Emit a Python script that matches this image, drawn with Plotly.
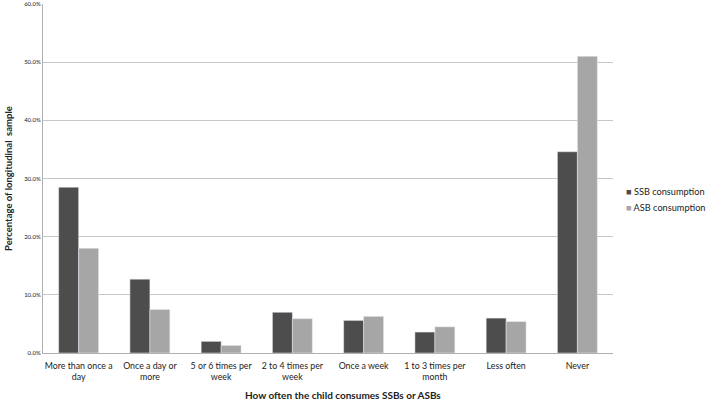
import plotly.graph_objects as go

categories = ["More than once a<br>day", "Once a day or<br>more", "5 or 6 times per<br>week",
              "2 to 4 times per<br>week", "Once a week", "1 to 3 times per<br>month",
              "Less often", "Never"]
ssb = [28.5, 12.7, 2.0, 7.0, 5.6, 3.6, 6.0, 34.6]
asb = [18.0, 7.5, 1.3, 5.9, 6.3, 4.5, 5.4, 51.0]
series_names = ["SSB consumption", "ASB consumption"]
series_colors = ["#4d4d4d", "#a6a6a6"]
y_ticks = [0, 10, 20, 30, 40, 50, 60]
y_tick_labels = ["0.0%", "10.0%", "20.0%", "30.0%", "40.0%", "50.0%", "60.0%"]
x_title = "How often the child consumes SSBs or ASBs"
y_title = "Percentage of longitudinal  sample"

FONT = "Lato, Liberation Sans, sans-serif"

fig = go.Figure()
for name, vals, col in zip(series_names, [ssb, asb], series_colors):
    fig.add_trace(go.Bar(x=categories, y=vals, name=name, marker_color=col, showlegend=False))

# legend drawn as text entries to the right of the plot
for i, (name, col) in enumerate(zip(series_names, series_colors)):
    fig.add_annotation(xref="paper", yref="paper", x=1.02, y=0.464 - i * 0.046,
                       xanchor="left", yanchor="middle", showarrow=False,
                       text=f"<span style='color:{col}'>■</span> {name}",
                       font=dict(size=9.2, color="#222222", family=FONT))

# x-axis title (slightly right of plot centre, as in the original)
fig.add_annotation(xref="paper", yref="paper", x=0.526, y=-0.12,
                   xanchor="center", yanchor="middle", showarrow=False,
                   text=f"<b>{x_title}</b>", font=dict(size=10, color="#222222", family=FONT))

fig.update_layout(
    width=709, height=401,
    margin=dict(l=43, r=96, t=4, b=48, autoexpand=False),
    paper_bgcolor="white", plot_bgcolor="white",
    barmode="group", bargap=0.44, bargroupgap=0,
    font=dict(family=FONT, color="#222222", size=9),
    xaxis=dict(showline=True, linecolor="#b0b0b0", linewidth=1, ticks="",
               tickfont=dict(size=8.8), tickangle=0, ticklabelstandoff=4),
    yaxis=dict(range=[0, 60], tickvals=y_ticks, ticktext=y_tick_labels,
               tickfont=dict(size=6), showgrid=True, gridcolor="#c8c8c8",
               showline=True, linecolor="#b0b0b0", linewidth=1, zeroline=False,
               title=dict(text=f"<b>{y_title}</b>", font=dict(size=9.5), standoff=9)),
)

fig.write_html("out.html", config={"displayModeBar": False},
               post_script="document.body.style.margin='0';")
